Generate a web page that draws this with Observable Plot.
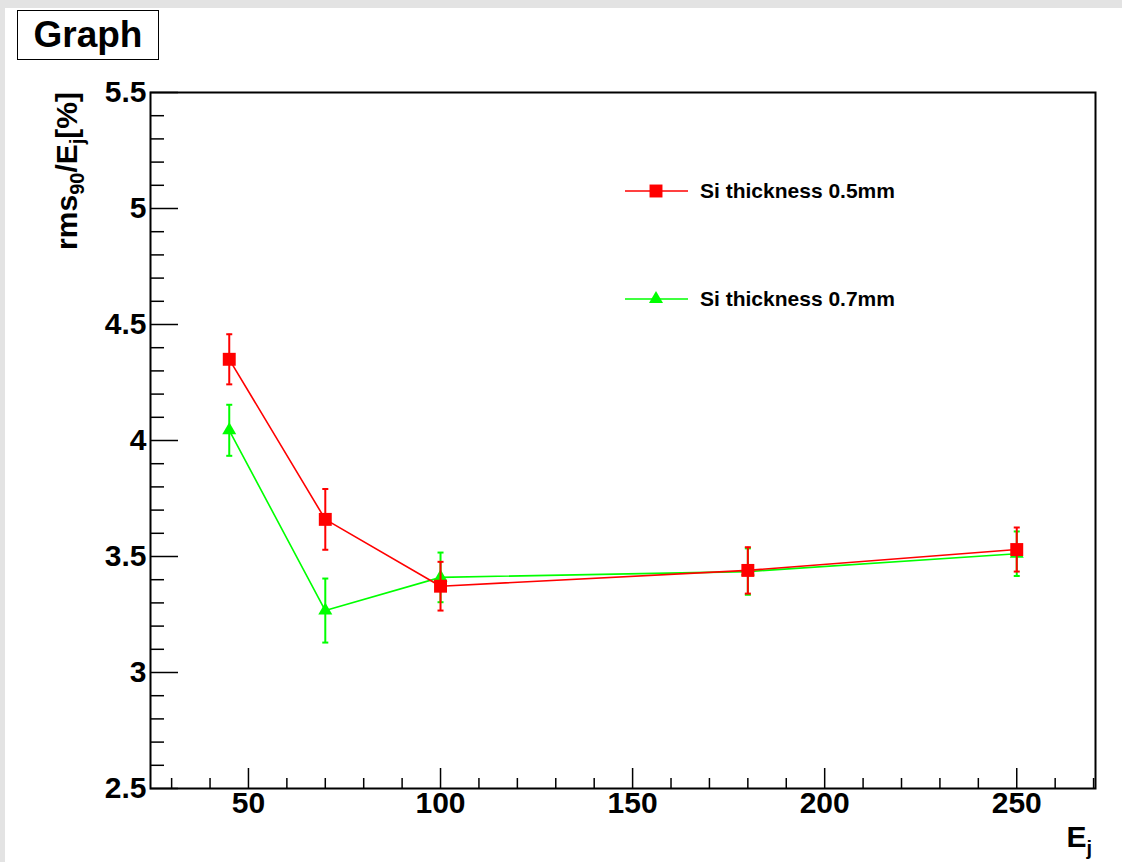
<!DOCTYPE html>
<html>
<head>
<meta charset="utf-8">
<script src="https://cdn.jsdelivr.net/npm/d3@7"></script>
<script src="https://cdn.jsdelivr.net/npm/@observablehq/plot@0.6"></script>
<style>
  html, body { margin: 0; padding: 0; }
  body { width: 1122px; height: 862px; background: #e3e3e3; position: relative; overflow: hidden;
         font-family: "Liberation Sans", Arial, Helvetica, sans-serif; }
  #panel { position: absolute; left: 5px; top: 8px; width: 1117px; height: 854px; background: #fff; }
  #chart { position: absolute; left: 0; top: 0; }
  #title { position: absolute; left: 17px; top: 10px; width: 140px; height: 48px; border: 1.5px solid #000;
           background: #fff; font-weight: bold; font-size: 37px; line-height: 48px; text-align: center; color: #000; }
</style>
</head>
<body>
<div id="panel"></div>
<div id="chart"></div>
<div id="title">Graph</div>
<script>
// ---- data ----
const energies = [45, 70, 100, 180, 250];
const rms05 = [4.35, 3.66, 3.372, 3.44, 3.53];
const err05 = [0.108, 0.131, 0.105, 0.1, 0.095];
const rms07 = [4.044, 3.267, 3.41, 3.435, 3.512];
const err07 = [0.11, 0.138, 0.107, 0.1, 0.096];
const seriesNames = ["Si thickness 0.5mm", "Si thickness 0.7mm"];
const seriesColors = ["#ff0000", "#00ff00"];
const xTicks = [50, 100, 150, 200, 250];
const xMinor = [30, 40, 60, 70, 80, 90, 110, 120, 130, 140, 160, 170, 180, 190, 210, 220, 230, 240, 260, 270];
const yTicks = [2.5, 3, 3.5, 4, 4.5, 5, 5.5];
const yTickLabels = ["2.5", "3", "3.5", "4", "4.5", "5", "5.5"];
const yMinor = [2.6, 2.7, 2.8, 2.9, 3.1, 3.2, 3.3, 3.4, 3.6, 3.7, 3.8, 3.9, 4.1, 4.2, 4.3, 4.4, 4.6, 4.7, 4.8, 4.9, 5.1, 5.2, 5.3, 5.4];
const xDomain = [24.5, 270.5];
const yDomain = [2.5, 5.5];

const W = 1122, H = 862;
const mL = 150, mR = 27, mT = 92, mB = 74;
const innerW = W - mL - mR, innerH = H - mT - mB;
const FONT = "Liberation Sans, Arial, Helvetica, sans-serif";

const s05 = energies.map((e, i) => ({E: e, v: rms05[i], err: err05[i]}));
const s07 = energies.map((e, i) => ({E: e, v: rms07[i], err: err07[i]}));

const capSymbol = {
  draw(ctx, size) { const w = Math.sqrt(size) / 2; ctx.moveTo(-w, 0); ctx.lineTo(w, 0); }
};

function seriesMarks(data, color, symbol, r) {
  return [
    Plot.line(data, {x: "E", y: "v", stroke: color, strokeWidth: 1.6}),
    Plot.ruleX(data, {x: "E", y1: d => d.v - d.err, y2: d => d.v + d.err, stroke: color, strokeWidth: 2}),
    Plot.dot(data, {x: "E", y: d => d.v - d.err, symbol: capSymbol, r: 3.4, fill: "none", stroke: color, strokeWidth: 2}),
    Plot.dot(data, {x: "E", y: d => d.v + d.err, symbol: capSymbol, r: 3.4, fill: "none", stroke: color, strokeWidth: 2}),
    Plot.dot(data, {x: "E", y: "v", symbol, r, fill: color, stroke: "none"})
  ];
}

const plot = Plot.plot({
  width: W, height: H,
  marginLeft: mL, marginRight: mR, marginTop: mT, marginBottom: mB,
  style: {background: "transparent", fontFamily: FONT, color: "#000", overflow: "visible"},
  x: {domain: xDomain, axis: null},
  y: {domain: yDomain, axis: null},
  marks: [
    Plot.ruleX(xMinor, {x: d => d, insetTop: innerH - 10, stroke: "#000", strokeWidth: 1.5}),
    Plot.ruleX(xTicks, {x: d => d, insetTop: innerH - 20, stroke: "#000", strokeWidth: 1.5}),
    Plot.ruleY(yMinor, {y: d => d, insetRight: innerW - 14, stroke: "#000", strokeWidth: 1.5}),
    Plot.ruleY(yTicks, {y: d => d, insetRight: innerW - 28, stroke: "#000", strokeWidth: 1.5}),
    Plot.text(xTicks, {x: d => d, frameAnchor: "bottom", dy: 24, text: d => String(d),
      fontSize: 30, fontWeight: "bold", fill: "#000"}),
    Plot.text(yTicks, {y: d => d, frameAnchor: "left", dx: -4, textAnchor: "end",
      text: (d, i) => yTickLabels[i], fontSize: 30, fontWeight: "bold", fill: "#000"}),
    ...seriesMarks(s07, seriesColors[1], "triangle", 5.2),
    ...seriesMarks(s05, seriesColors[0], "square", 7.3),
    Plot.frame({stroke: "#000", strokeWidth: 2})
  ]
});
document.getElementById("chart").appendChild(plot);

// ---- axis titles (real text with subscripts) ----
const svg = d3.select(plot);
const yt = svg.append("text")
  .attr("transform", `translate(77,${mT}) rotate(-90)`)
  .attr("text-anchor", "end")
  .attr("font-family", FONT).attr("font-weight", "bold").attr("font-size", 30).attr("fill", "#000");
yt.append("tspan").text("rms");
yt.append("tspan").attr("dy", 7).attr("font-size", 20).text("90");
yt.append("tspan").attr("dy", -7).text("/E");
yt.append("tspan").attr("dy", 7).attr("font-size", 20).text("j");
yt.append("tspan").attr("dy", -7).text("[%]");

const xt = svg.append("text")
  .attr("x", 1092).attr("y", 847)
  .attr("text-anchor", "end")
  .attr("font-family", FONT).attr("font-weight", "bold").attr("font-size", 30).attr("fill", "#000");
xt.append("tspan").text("E");
xt.append("tspan").attr("dy", 8).attr("font-size", 20).text("j");

// ---- legend ----
const legendY = [191, 299];
const legendSym = [d3.symbolSquare, d3.symbolTriangle];
const legendSize = [Math.PI * 7.3 * 7.3, Math.PI * 5.2 * 5.2];
[0, 1].forEach(i => {
  const g = svg.append("g").attr("transform", `translate(0,${legendY[i]})`);
  g.append("line").attr("x1", 625).attr("x2", 688).attr("y1", 0).attr("y2", 0)
    .attr("stroke", seriesColors[i]).attr("stroke-width", 1.6);
  g.append("path").attr("transform", "translate(656,0)")
    .attr("d", d3.symbol(legendSym[i], legendSize[i])()).attr("fill", seriesColors[i]);
  g.append("text").attr("x", 700).attr("y", 0).attr("dy", "0.35em").attr("text-anchor", "start")
    .attr("font-family", FONT).attr("font-weight", "bold").attr("font-size", 21).attr("fill", "#000")
    .text(seriesNames[i]);
});
</script>
</body>
</html>
